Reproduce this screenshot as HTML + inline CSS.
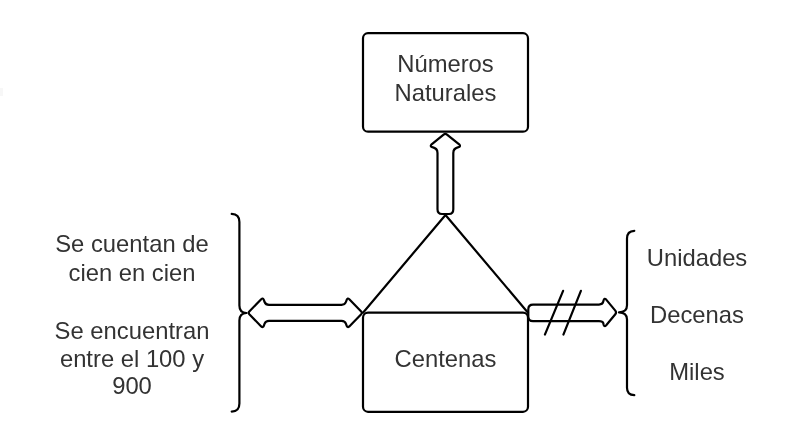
<!DOCTYPE html>
<html><head><meta charset="utf-8">
<style>
html,body{margin:0;padding:0;background:#fff;}
body{width:800px;height:445px;overflow:hidden;position:relative;}
svg{position:absolute;left:0;top:0;will-change:transform;}
text{font-family:"Liberation Sans",sans-serif;font-size:23.8px;fill:#333;}
</style></head><body>
<div style="position:absolute;left:0;top:88px;width:3px;height:8px;background:#f7f7f7"></div>
<svg width="800" height="445" viewBox="0 0 800 445">
<g fill="none" stroke="#000" stroke-width="2.2" stroke-linejoin="round" stroke-linecap="round">
  <!-- top box -->
  <rect x="363" y="33.2" width="165" height="98.5" rx="5" ry="5"/>
  <!-- bottom box -->
  <rect x="363" y="312.7" width="165" height="99.1" rx="5" ry="5"/>
  <!-- triangle -->
  <path d="M363 312.7 L445.5 215 L528 312.7"/>
  <!-- up arrow -->
  <path d="M443.6 134.6 Q445.3 133.2 447 134.6 L459.2 144.3 Q461.2 146.3 458.5 147.2 Q453.3 148.3 453.3 153 L453.3 209.3 Q453.3 214 449 214 L442 214 Q437.5 214 437.5 209.3 L437.5 153 Q437.5 148.3 432.3 147.2 Q429.6 146.3 431.6 144.3 Z"/>
  <!-- left double arrow -->
  <path d="M249.3 311.4 L261.2 299.2 Q263 297.6 263.8 299.8 L264.6 302 Q265.6 304.8 269 304.8 L341.5 304.8 Q344.9 304.8 345.9 302 L346.7 299.8 Q347.5 297.6 349.3 299.2 L361.2 311.4 Q362.5 312.8 361.2 314.2 L349.3 326.4 Q347.5 328 346.7 325.8 L345.9 323.6 Q344.9 320.8 341.5 320.8 L269 320.8 Q265.6 320.8 264.6 323.6 L263.8 325.8 Q263 328 261.2 326.4 L249.3 314.2 Q248 312.8 249.3 311.4 Z"/>
  <!-- right arrow -->
  <path d="M533 304.6 L599 304.6 Q602.6 304.6 603.3 301.6 L603.6 300.2 Q604.3 297.6 606.2 299.6 L615.3 310.6 Q616.8 312.4 615.3 314.2 L606.2 325.2 Q604.3 327.2 603.6 324.6 L603.3 323.2 Q602.6 321.2 599 321.2 L533 321.2 Q528.3 321.2 528.3 316.5 L528.3 309.3 Q528.3 304.6 533 304.6 Z"/>
  <!-- slashes -->
  <path d="M563.1 290.8 L544.9 334.6 M580.9 290.8 L563.4 334.6"/>
  <!-- left brace -->
  <path d="M231.7 213.9 C236.5 214 239.4 217 239.4 222 L239.4 305.5 C239.4 310.5 241.8 312.9 246.5 313 C241.8 313.1 239.4 315.5 239.4 320.5 L239.4 403.5 C239.4 408.5 236.5 411.5 231.7 411.6"/>
  <!-- right brace -->
  <path d="M634.3 230.8 C629.5 231 627 234 627 238.5 L627 305.3 C627 310 624.2 312.3 619 312.4 C624.2 312.5 627 314.8 627 319.5 L627 387.8 C627 392.3 629.5 395.1 634.3 395.2"/>
</g>
<g text-anchor="middle" transform="translate(0,0.9)">
  <text x="445.5" y="71.4">Números</text>
  <text x="445.5" y="99.7">Naturales</text>
  <text x="445.5" y="366.4">Centenas</text>
  <text x="697" y="264.7">Unidades</text>
  <text x="697" y="322">Decenas</text>
  <text x="697" y="378.8">Miles</text>
  <text x="132" y="251.6">Se cuentan de</text>
  <text x="132" y="280.2">cien en cien</text>
  <text x="132" y="337.7">Se encuentran</text>
  <text x="132" y="365.8">entre el 100 y</text>
  <text x="132" y="393.5">900</text>
</g>
</svg>
</body></html>
